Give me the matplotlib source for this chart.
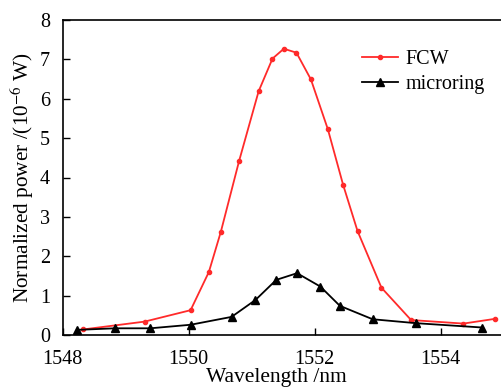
import matplotlib
matplotlib.use("Agg")
import matplotlib.pyplot as plt

fcw_x = [1548.32, 1549.30, 1550.03, 1550.32, 1550.51, 1550.80, 1551.11, 1551.33, 1551.51,
         1551.71, 1551.94, 1552.21, 1552.45, 1552.68, 1553.06, 1553.53, 1554.36, 1554.86]
fcw_y = [0.14, 0.34, 0.63, 1.60, 2.62, 4.42, 6.19, 7.02, 7.27,
         7.17, 6.49, 5.22, 3.82, 2.64, 1.20, 0.38, 0.29, 0.41]

ring_x = [1548.23, 1548.83, 1549.39, 1550.03, 1550.68, 1551.06, 1551.39, 1551.72,
          1552.09, 1552.40, 1552.92, 1553.61, 1554.66]
ring_y = [0.13, 0.17, 0.17, 0.26, 0.46, 0.89, 1.40, 1.57,
          1.23, 0.74, 0.40, 0.30, 0.19]

xticks = [1548, 1550, 1552, 1554]
yticks = [0, 1, 2, 3, 4, 5, 6, 7, 8]

plt.rcParams['font.family'] = ['Liberation Serif', 'DejaVu Serif']
plt.rcParams['mathtext.fontset'] = 'stix'

fig = plt.figure(figsize=(5.02, 3.87), dpi=100)
ax = fig.add_axes([62.7/502, 1-335/387, (503.7-62.7)/502, (335-20)/387])

ax.plot(fcw_x, fcw_y, color='#ff2a2a', lw=1.3, marker='o', ms=3, label='FCW')
ax.plot(ring_x, ring_y, color='black', lw=1.3, marker='^', ms=6, label='microring')

ax.set_xlim(1548, 1555)
ax.set_ylim(0, 8)
ax.set_xticks(xticks)
ax.set_yticks(yticks)
ax.tick_params(direction='in', length=5, width=1, labelsize=14.5)
ax.tick_params(axis='x', pad=11)
ax.tick_params(axis='y', pad=9)
for s in ax.spines.values():
    s.set_linewidth(1.2)

ax.set_xlabel('Wavelength /nm', fontsize=15.5, labelpad=1)
ax.xaxis.set_label_coords((276.5-62.7)/441, -0.106, transform=ax.transAxes)
ax.xaxis.label.set_va('top')
ax.set_ylabel('Normalized power /(10$^{-6}$ W)', fontsize=15.3, labelpad=3)

ax.legend(loc='upper left', bbox_to_anchor=(0.66, 0.93), frameon=False, fontsize=14.5,
          handlelength=1.8, handletextpad=0.35, labelspacing=0.3, borderaxespad=0)

fig.savefig('out.png', dpi=100)
